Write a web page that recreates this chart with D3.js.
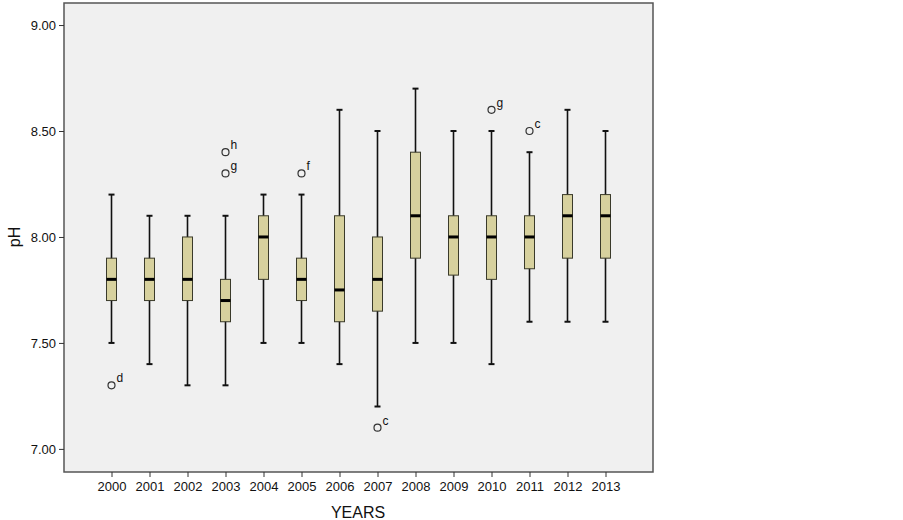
<!DOCTYPE html>
<html>
<head>
<meta charset="utf-8">
<script src="https://cdn.jsdelivr.net/npm/d3@7/dist/d3.min.js"></script>
<style>
  body { margin: 0; background: #fff; }
  text { font-family: Arial, "Liberation Sans", sans-serif; fill: #111; }
  .axis text { font-size: 13px; }
  .axis path, .axis line { stroke: #333; }
</style>
</head>
<body>
<script>
// data
var years = ["2000","2001","2002","2003","2004","2005","2006","2007","2008","2009","2010","2011","2012","2013"];
var whiskerHigh = [8.2, 8.1, 8.1, 8.1, 8.2, 8.2, 8.6, 8.5, 8.7, 8.5, 8.5, 8.4, 8.6, 8.5];
var q3 =          [7.9, 7.9, 8.0, 7.8, 8.1, 7.9, 8.1, 8.0, 8.4, 8.1, 8.1, 8.1, 8.2, 8.2];
var medians =     [7.8, 7.8, 7.8, 7.7, 8.0, 7.8, 7.75, 7.8, 8.1, 8.0, 8.0, 8.0, 8.1, 8.1];
var q1 =          [7.7, 7.7, 7.7, 7.6, 7.8, 7.7, 7.6, 7.65, 7.9, 7.82, 7.8, 7.85, 7.9, 7.9];
var whiskerLow =  [7.5, 7.4, 7.3, 7.3, 7.5, 7.5, 7.4, 7.2, 7.5, 7.5, 7.4, 7.6, 7.6, 7.6];
var outlierYear = ["2000","2003","2003","2005","2007","2010","2011"];
var outlierValue = [7.3, 8.4, 8.3, 8.3, 7.1, 8.6, 8.5];
var outlierLabel = ["d","h","g","f","c","g","c"];
var yTicks = [7.0, 7.5, 8.0, 8.5, 9.0];

var margin = {top: 3, left: 64, right: 250, bottom: 48};
var width = 903, height = 520;
var plotW = width - margin.left - margin.right;
var plotH = height - margin.top - margin.bottom;

var svg = d3.select("body").append("svg")
    .attr("width", width)
    .attr("height", height);

var xScale = d3.scalePoint()
    .domain(years)
    .range([margin.left, margin.left + plotW])
    .padding(1.25);

var yScale = d3.scaleLinear()
    .domain([6.891, 9.104])
    .range([margin.top + plotH, margin.top]);

// plot background
svg.append("rect")
    .attr("x", margin.left)
    .attr("y", margin.top)
    .attr("width", plotW)
    .attr("height", plotH)
    .attr("fill", "#f0f0f0")
    .attr("stroke", "#555")
    .attr("stroke-width", 1.5);

var boxes = years.map(function(y, i) {
  return {year: y, hi: whiskerHigh[i], q3: q3[i], med: medians[i], q1: q1[i], lo: whiskerLow[i]};
});

var boxW = 10, capW = 6;

var g = svg.selectAll(".box")
    .data(boxes)
    .enter().append("g")
    .attr("class", "box");

// whiskers
g.append("line")
    .attr("x1", function(d) { return xScale(d.year); })
    .attr("x2", function(d) { return xScale(d.year); })
    .attr("y1", function(d) { return yScale(d.hi); })
    .attr("y2", function(d) { return yScale(d.lo); })
    .attr("stroke", "#111")
    .attr("stroke-width", 1.6);

// caps
g.selectAll(".cap")
    .data(function(d) { return [{year: d.year, v: d.hi}, {year: d.year, v: d.lo}]; })
    .enter().append("line")
    .attr("x1", function(d) { return xScale(d.year) - capW / 2; })
    .attr("x2", function(d) { return xScale(d.year) + capW / 2; })
    .attr("y1", function(d) { return yScale(d.v); })
    .attr("y2", function(d) { return yScale(d.v); })
    .attr("stroke", "#111")
    .attr("stroke-width", 2);

// boxes
g.append("rect")
    .attr("x", function(d) { return xScale(d.year) - boxW / 2; })
    .attr("y", function(d) { return yScale(d.q3); })
    .attr("width", boxW)
    .attr("height", function(d) { return yScale(d.q1) - yScale(d.q3); })
    .attr("fill", "#d7d19e")
    .attr("stroke", "#3a3a2a")
    .attr("stroke-width", 1);

// medians
g.append("line")
    .attr("x1", function(d) { return xScale(d.year) - boxW / 2; })
    .attr("x2", function(d) { return xScale(d.year) + boxW / 2; })
    .attr("y1", function(d) { return yScale(d.med); })
    .attr("y2", function(d) { return yScale(d.med); })
    .attr("stroke", "#000")
    .attr("stroke-width", 3);

// outliers
var outliers = outlierYear.map(function(y, i) {
  return {year: y, v: outlierValue[i], label: outlierLabel[i]};
});

svg.selectAll(".outlier")
    .data(outliers)
    .enter().append("circle")
    .attr("cx", function(d) { return xScale(d.year); })
    .attr("cy", function(d) { return yScale(d.v); })
    .attr("r", 3.5)
    .attr("fill", "none")
    .attr("stroke", "#333")
    .attr("stroke-width", 1.2);

svg.selectAll(".olabel")
    .data(outliers)
    .enter().append("text")
    .attr("x", function(d) { return xScale(d.year) + 5; })
    .attr("y", function(d) { return yScale(d.v) - 3; })
    .style("font-size", "12px")
    .text(function(d) { return d.label; });

// Y axis
var yAxis = d3.axisLeft(yScale)
    .tickValues(yTicks)
    .tickSize(5)
    .tickFormat(d3.format(".2f"));

svg.append("g")
    .attr("class", "axis")
    .attr("transform", "translate(" + margin.left + ",0)")
    .call(yAxis)
    .call(function(s) { s.select(".domain").remove(); });

// X axis
var xAxis = d3.axisBottom(xScale)
    .tickSize(5)
    .tickPadding(5);

svg.append("g")
    .attr("class", "axis")
    .attr("transform", "translate(0," + (margin.top + plotH) + ")")
    .call(xAxis)
    .call(function(s) { s.select(".domain").remove(); });

// axis labels
svg.append("text")
    .attr("transform", "translate(20," + yScale(8.0) + ") rotate(270)")
    .attr("text-anchor", "middle")
    .style("font-size", "16px")
    .text("pH");

svg.append("text")
    .attr("x", 358)
    .attr("y", 518)
    .attr("text-anchor", "middle")
    .style("font-size", "16px")
    .text("YEARS");
</script>
</body>
</html>
